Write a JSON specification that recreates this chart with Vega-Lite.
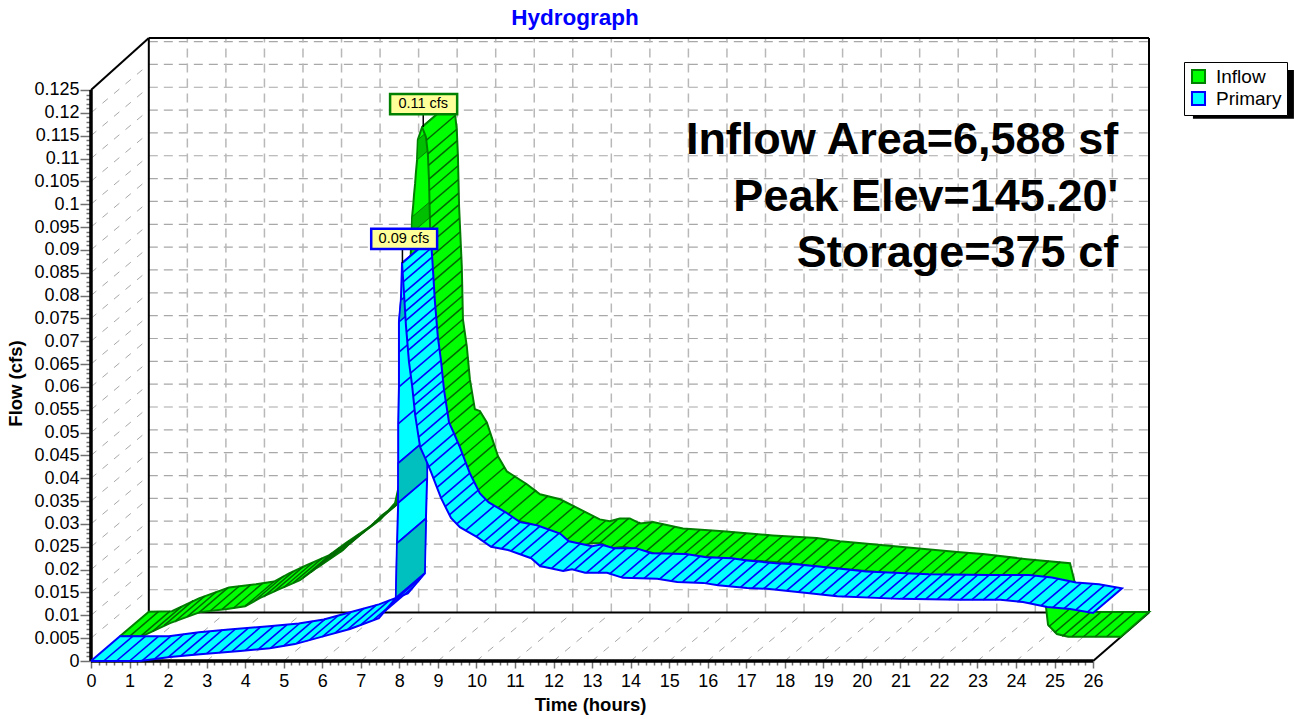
{"$schema":"https://vega.github.io/schema/vega-lite/v6.json","width":1058,"height":623,"autosize":{"type":"none"},"padding":{"left":91,"top":38,"right":145,"bottom":58},"background":"#ffffff",
"title":{"text":"Hydrograph","color":"#0000ff","font":"Liberation Sans","fontSize":22.5,"fontWeight":"bold","anchor":"middle","frame":"group","dx":-45,"offset":7},
"config":{"view":{"stroke":null},"font":"Liberation Sans"},
"datasets":{
"wallDiag":[{"t":0,"f":0.005,"t2":1.5,"f2":0.0156},{"t":0,"f":0.01,"t2":1.5,"f2":0.0206},{"t":0,"f":0.015,"t2":1.5,"f2":0.0256},{"t":0,"f":0.02,"t2":1.5,"f2":0.0306},{"t":0,"f":0.025,"t2":1.5,"f2":0.0356},{"t":0,"f":0.03,"t2":1.5,"f2":0.0406},{"t":0,"f":0.035,"t2":1.5,"f2":0.0456},{"t":0,"f":0.04,"t2":1.5,"f2":0.0506},{"t":0,"f":0.045,"t2":1.5,"f2":0.0556},{"t":0,"f":0.05,"t2":1.5,"f2":0.0606},{"t":0,"f":0.055,"t2":1.5,"f2":0.0656},{"t":0,"f":0.06,"t2":1.5,"f2":0.0706},{"t":0,"f":0.065,"t2":1.5,"f2":0.0756},{"t":0,"f":0.07,"t2":1.5,"f2":0.0806},{"t":0,"f":0.075,"t2":1.5,"f2":0.0856},{"t":0,"f":0.08,"t2":1.5,"f2":0.0906},{"t":0,"f":0.085,"t2":1.5,"f2":0.0956},{"t":0,"f":0.09,"t2":1.5,"f2":0.1006},{"t":0,"f":0.095,"t2":1.5,"f2":0.1056},{"t":0,"f":0.1,"t2":1.5,"f2":0.1106},{"t":0,"f":0.105,"t2":1.5,"f2":0.1156},{"t":0,"f":0.11,"t2":1.5,"f2":0.1206},{"t":0,"f":0.115,"t2":1.5,"f2":0.1256},{"t":0,"f":0.12,"t2":1.5,"f2":0.1306}],
"floorDiag":[{"t":1,"f":0,"t2":2.5,"f2":0.0106},{"t":2,"f":0,"t2":3.5,"f2":0.0106},{"t":3,"f":0,"t2":4.5,"f2":0.0106},{"t":4,"f":0,"t2":5.5,"f2":0.0106},{"t":5,"f":0,"t2":6.5,"f2":0.0106},{"t":6,"f":0,"t2":7.5,"f2":0.0106},{"t":7,"f":0,"t2":8.5,"f2":0.0106},{"t":8,"f":0,"t2":9.5,"f2":0.0106},{"t":9,"f":0,"t2":10.5,"f2":0.0106},{"t":10,"f":0,"t2":11.5,"f2":0.0106},{"t":11,"f":0,"t2":12.5,"f2":0.0106},{"t":12,"f":0,"t2":13.5,"f2":0.0106},{"t":13,"f":0,"t2":14.5,"f2":0.0106},{"t":14,"f":0,"t2":15.5,"f2":0.0106},{"t":15,"f":0,"t2":16.5,"f2":0.0106},{"t":16,"f":0,"t2":17.5,"f2":0.0106},{"t":17,"f":0,"t2":18.5,"f2":0.0106},{"t":18,"f":0,"t2":19.5,"f2":0.0106},{"t":19,"f":0,"t2":20.5,"f2":0.0106},{"t":20,"f":0,"t2":21.5,"f2":0.0106},{"t":21,"f":0,"t2":22.5,"f2":0.0106},{"t":22,"f":0,"t2":23.5,"f2":0.0106},{"t":23,"f":0,"t2":24.5,"f2":0.0106},{"t":24,"f":0,"t2":25.5,"f2":0.0106},{"t":25,"f":0,"t2":26.5,"f2":0.0106}],
"backH":[{"t":1.5,"f":0.0156,"t2":27.45,"f2":0.0156},{"t":1.5,"f":0.0206,"t2":27.45,"f2":0.0206},{"t":1.5,"f":0.0256,"t2":27.45,"f2":0.0256},{"t":1.5,"f":0.0306,"t2":27.45,"f2":0.0306},{"t":1.5,"f":0.0356,"t2":27.45,"f2":0.0356},{"t":1.5,"f":0.0406,"t2":27.45,"f2":0.0406},{"t":1.5,"f":0.0456,"t2":27.45,"f2":0.0456},{"t":1.5,"f":0.0506,"t2":27.45,"f2":0.0506},{"t":1.5,"f":0.0556,"t2":27.45,"f2":0.0556},{"t":1.5,"f":0.0606,"t2":27.45,"f2":0.0606},{"t":1.5,"f":0.0656,"t2":27.45,"f2":0.0656},{"t":1.5,"f":0.0706,"t2":27.45,"f2":0.0706},{"t":1.5,"f":0.0756,"t2":27.45,"f2":0.0756},{"t":1.5,"f":0.0806,"t2":27.45,"f2":0.0806},{"t":1.5,"f":0.0856,"t2":27.45,"f2":0.0856},{"t":1.5,"f":0.0906,"t2":27.45,"f2":0.0906},{"t":1.5,"f":0.0956,"t2":27.45,"f2":0.0956},{"t":1.5,"f":0.1006,"t2":27.45,"f2":0.1006},{"t":1.5,"f":0.1056,"t2":27.45,"f2":0.1056},{"t":1.5,"f":0.1106,"t2":27.45,"f2":0.1106},{"t":1.5,"f":0.1156,"t2":27.45,"f2":0.1156},{"t":1.5,"f":0.1206,"t2":27.45,"f2":0.1206},{"t":1.5,"f":0.1256,"t2":27.45,"f2":0.1256},{"t":1.5,"f":0.1306,"t2":27.45,"f2":0.1306},{"t":1.5,"f":0.1356,"t2":27.45,"f2":0.1356}],
"backV":[{"t":2.5,"f":0.0106,"t2":2.5,"f2":0.1364},{"t":3.5,"f":0.0106,"t2":3.5,"f2":0.1364},{"t":4.5,"f":0.0106,"t2":4.5,"f2":0.1364},{"t":5.5,"f":0.0106,"t2":5.5,"f2":0.1364},{"t":6.5,"f":0.0106,"t2":6.5,"f2":0.1364},{"t":7.5,"f":0.0106,"t2":7.5,"f2":0.1364},{"t":8.5,"f":0.0106,"t2":8.5,"f2":0.1364},{"t":9.5,"f":0.0106,"t2":9.5,"f2":0.1364},{"t":10.5,"f":0.0106,"t2":10.5,"f2":0.1364},{"t":11.5,"f":0.0106,"t2":11.5,"f2":0.1364},{"t":12.5,"f":0.0106,"t2":12.5,"f2":0.1364},{"t":13.5,"f":0.0106,"t2":13.5,"f2":0.1364},{"t":14.5,"f":0.0106,"t2":14.5,"f2":0.1364},{"t":15.5,"f":0.0106,"t2":15.5,"f2":0.1364},{"t":16.5,"f":0.0106,"t2":16.5,"f2":0.1364},{"t":17.5,"f":0.0106,"t2":17.5,"f2":0.1364},{"t":18.5,"f":0.0106,"t2":18.5,"f2":0.1364},{"t":19.5,"f":0.0106,"t2":19.5,"f2":0.1364},{"t":20.5,"f":0.0106,"t2":20.5,"f2":0.1364},{"t":21.5,"f":0.0106,"t2":21.5,"f2":0.1364},{"t":22.5,"f":0.0106,"t2":22.5,"f2":0.1364},{"t":23.5,"f":0.0106,"t2":23.5,"f2":0.1364},{"t":24.5,"f":0.0106,"t2":24.5,"f2":0.1364},{"t":25.5,"f":0.0106,"t2":25.5,"f2":0.1364},{"t":26.5,"f":0.0106,"t2":26.5,"f2":0.1364}],
"frameThick":[{"t":0,"f":0,"t2":26,"f2":0},{"t":0,"f":0,"t2":0,"f2":0.125}],
"frameThin":[{"t":1.5,"f":0.0106,"t2":1.5,"f2":0.1364},{"t":1.5,"f":0.1364,"t2":27.45,"f2":0.1364},{"t":27.45,"f":0.0106,"t2":27.45,"f2":0.1364},{"t":1.5,"f":0.0106,"t2":27.45,"f2":0.0106},{"t":0,"f":0.125,"t2":1.5,"f2":0.1364},{"t":26,"f":0,"t2":27.45,"f2":0.0106}],
"iLeft":[{"t":0.75,"f":0.0054},{"t":1.35,"f":0.0055},{"t":2.05,"f":0.0083},{"t":2.83,"f":0.0107},{"t":3.53,"f":0.0114},{"t":4.0,"f":0.012},{"t":4.39,"f":0.0138},{"t":4.83,"f":0.0155},{"t":5.42,"f":0.0177},{"t":5.86,"f":0.0204},{"t":6.54,"f":0.0243},{"t":6.8,"f":0.0265},{"t":7.5,"f":0.0309},{"t":7.89,"f":0.0346},{"t":8.64,"f":0.04},{"t":8.25,"f":0.0363},{"t":7.55,"f":0.0319},{"t":7.29,"f":0.0297},{"t":6.61,"f":0.0258},{"t":6.17,"f":0.0231},{"t":5.58,"f":0.0209},{"t":5.14,"f":0.0192},{"t":4.75,"f":0.0174},{"t":4.28,"f":0.0168},{"t":3.58,"f":0.0161},{"t":2.8,"f":0.0137},{"t":2.1,"f":0.0109},{"t":1.5,"f":0.0108},{"t":0.75,"f":0.0054}],
"iWall":[{"t":7.89,"f":0.0346},{"t":8.02,"f":0.0396},{"t":8.15,"f":0.0571},{"t":8.23,"f":0.079},{"t":8.28,"f":0.0856},{"t":8.3,"f":0.09},{"t":8.32,"f":0.0937},{"t":8.33,"f":0.0972},{"t":8.36,"f":0.0998},{"t":8.38,"f":0.102},{"t":8.41,"f":0.1046},{"t":8.43,"f":0.107},{"t":8.46,"f":0.1097},{"t":8.48,"f":0.1141},{"t":8.59,"f":0.1169},{"t":9.34,"f":0.1223},{"t":9.23,"f":0.1195},{"t":9.21,"f":0.1151},{"t":9.18,"f":0.1124},{"t":9.16,"f":0.11},{"t":9.13,"f":0.1074},{"t":9.11,"f":0.1052},{"t":9.08,"f":0.1026},{"t":9.07,"f":0.0991},{"t":9.05,"f":0.0954},{"t":9.03,"f":0.091},{"t":8.98,"f":0.0844},{"t":8.9,"f":0.0625},{"t":8.77,"f":0.045},{"t":8.64,"f":0.04},{"t":7.89,"f":0.0346}],
"iWallDark":[{"q":1,"t":8.32,"f":0.0937},{"q":1,"t":8.33,"f":0.0972},{"q":1,"t":9.08,"f":0.1026},{"q":1,"t":9.07,"f":0.0991},{"q":1,"t":8.32,"f":0.0937},{"q":2,"t":8.46,"f":0.1097},{"q":2,"t":8.48,"f":0.1141},{"q":2,"t":9.23,"f":0.1195},{"q":2,"t":9.21,"f":0.1151},{"q":2,"t":8.46,"f":0.1097}],
"iHatch1":[{"t":1.0,"f":0.0054},{"t":1.3,"f":0.0055},{"t":1.6,"f":0.0065},{"t":1.9,"f":0.0078},{"t":2.2,"f":0.0088},{"t":2.5,"f":0.0097},{"t":2.8,"f":0.0106},{"t":3.1,"f":0.011},{"t":3.4,"f":0.0113},{"t":3.7,"f":0.0116},{"t":4.0,"f":0.012},{"t":4.25,"f":0.0132},{"t":4.5,"f":0.0142},{"t":4.75,"f":0.0152},{"t":5.0,"f":0.0161},{"t":5.25,"f":0.0171},{"t":5.5,"f":0.0182},{"t":5.7,"f":0.0194},{"t":5.95,"f":0.0209},{"t":6.2,"f":0.0224},{"t":6.45,"f":0.0238},{"t":6.7,"f":0.0255},{"t":6.95,"f":0.0274},{"t":7.2,"f":0.029},{"t":7.45,"f":0.0307},{"t":7.7,"f":0.0328},{"t":8.36,"f":0.0998},{"t":8.38,"f":0.102},{"t":8.41,"f":0.1046},{"t":8.43,"f":0.107},{"t":8.28,"f":0.0856},{"t":8.3,"f":0.09}],
"iFall":[{"t":8.59,"f":0.1169},{"t":8.69,"f":0.1147},{"t":8.74,"f":0.111},{"t":8.77,"f":0.1051},{"t":8.8,"f":0.0941},{"t":8.87,"f":0.081},{"t":8.9,"f":0.0694},{"t":9.0,"f":0.0635},{"t":9.08,"f":0.0563},{"t":9.21,"f":0.0497},{"t":9.34,"f":0.0493},{"t":9.52,"f":0.0468},{"t":9.81,"f":0.0394},{"t":10.04,"f":0.0361},{"t":10.56,"f":0.0333},{"t":10.9,"f":0.0311},{"t":11.42,"f":0.03},{"t":11.94,"f":0.0278},{"t":12.45,"f":0.0256},{"t":12.71,"f":0.0252},{"t":12.97,"f":0.0258},{"t":13.23,"f":0.0258},{"t":13.49,"f":0.0247},{"t":13.83,"f":0.025},{"t":14.61,"f":0.0236},{"t":15.65,"f":0.023},{"t":16.94,"f":0.0221},{"t":18.08,"f":0.0215},{"t":18.68,"f":0.0208},{"t":21.8,"f":0.0184},{"t":22.39,"f":0.018},{"t":23.53,"f":0.0169},{"t":24.65,"f":0.016},{"t":24.78,"f":0.0116},{"t":24.83,"f":0.0079},{"t":25.06,"f":0.0059},{"t":25.35,"f":0.0053},{"t":26.72,"f":0.0053},{"t":27.45,"f":0.0107},{"t":26.1,"f":0.0107},{"t":25.81,"f":0.0113},{"t":25.58,"f":0.0133},{"t":25.53,"f":0.017},{"t":25.4,"f":0.0214},{"t":24.28,"f":0.0223},{"t":23.14,"f":0.0234},{"t":22.55,"f":0.0238},{"t":19.43,"f":0.0262},{"t":18.83,"f":0.0269},{"t":17.69,"f":0.0275},{"t":16.4,"f":0.0284},{"t":15.36,"f":0.029},{"t":14.58,"f":0.0304},{"t":14.24,"f":0.0301},{"t":13.98,"f":0.0312},{"t":13.72,"f":0.0312},{"t":13.46,"f":0.0306},{"t":13.2,"f":0.031},{"t":12.69,"f":0.0332},{"t":12.17,"f":0.0354},{"t":11.65,"f":0.0365},{"t":11.31,"f":0.0387},{"t":10.79,"f":0.0415},{"t":10.56,"f":0.0448},{"t":10.27,"f":0.0522},{"t":10.09,"f":0.0547},{"t":9.96,"f":0.0551},{"t":9.83,"f":0.0617},{"t":9.75,"f":0.0689},{"t":9.65,"f":0.0748},{"t":9.62,"f":0.0864},{"t":9.55,"f":0.0995},{"t":9.52,"f":0.1105},{"t":9.49,"f":0.1164},{"t":9.44,"f":0.1201},{"t":9.34,"f":0.1223},{"t":8.59,"f":0.1169}],
"iHatch2":[{"t":8.7,"f":0.114},{"t":8.74,"f":0.111},{"t":8.755,"f":0.1085},{"t":8.77,"f":0.1055},{"t":8.775,"f":0.103},{"t":8.785,"f":0.1},{"t":8.79,"f":0.097},{"t":8.8,"f":0.0945},{"t":8.81,"f":0.0915},{"t":8.825,"f":0.0885},{"t":8.84,"f":0.0855},{"t":8.86,"f":0.083},{"t":8.87,"f":0.08},{"t":8.88,"f":0.077},{"t":8.885,"f":0.0745},{"t":8.89,"f":0.072},{"t":8.9,"f":0.0694},{"t":8.94,"f":0.067},{"t":8.99,"f":0.064},{"t":9.03,"f":0.0612},{"t":9.06,"f":0.0585},{"t":9.09,"f":0.056},{"t":9.14,"f":0.0535},{"t":9.19,"f":0.051},{"t":9.36,"f":0.049},{"t":9.52,"f":0.0468},{"t":9.61,"f":0.0445},{"t":9.71,"f":0.042},{"t":9.81,"f":0.0394},{"t":9.98,"f":0.037},{"t":10.25,"f":0.035},{"t":10.55,"f":0.0335},{"t":10.8,"f":0.032},{"t":11.1,"f":0.0307},{"t":11.5,"f":0.0295},{"t":11.8,"f":0.0285},{"t":12.05,"f":0.0272},{"t":12.3,"f":0.0262},{"t":12.6,"f":0.0253},{"t":12.9,"f":0.0255},{"t":13.2,"f":0.0258},{"t":13.5,"f":0.025},{"t":13.8,"f":0.025},{"t":14.1,"f":0.0246},{"t":14.4,"f":0.024},{"t":14.75,"f":0.0235},{"t":15.05,"f":0.0233},{"t":15.35,"f":0.0232},{"t":15.65,"f":0.023},{"t":15.95,"f":0.0228},{"t":16.25,"f":0.0226},{"t":16.55,"f":0.0224},{"t":16.85,"f":0.0222},{"t":17.2,"f":0.022},{"t":17.5,"f":0.0218},{"t":17.8,"f":0.0216},{"t":18.1,"f":0.0215},{"t":18.4,"f":0.0211},{"t":18.7,"f":0.0207},{"t":19.05,"f":0.0204},{"t":19.4,"f":0.0201},{"t":19.7,"f":0.0198},{"t":20.05,"f":0.0196},{"t":20.4,"f":0.0193},{"t":20.75,"f":0.019},{"t":21.05,"f":0.0188},{"t":21.4,"f":0.0185},{"t":21.7,"f":0.0184},{"t":22.0,"f":0.0182},{"t":22.4,"f":0.018},{"t":22.75,"f":0.0177},{"t":23.1,"f":0.0174},{"t":23.4,"f":0.0171},{"t":23.75,"f":0.0168},{"t":24.1,"f":0.0165},{"t":24.4,"f":0.0163},{"t":24.85,"f":0.0075},{"t":25.0,"f":0.0062},{"t":25.2,"f":0.0054},{"t":25.45,"f":0.0053},{"t":25.75,"f":0.0053},{"t":26.05,"f":0.0053},{"t":26.35,"f":0.0053}],
"pWall":[{"t":7.91,"f":0.0138},{"t":7.94,"f":0.0258},{"t":7.97,"f":0.0346},{"t":7.97,"f":0.0433},{"t":7.97,"f":0.0519},{"t":7.99,"f":0.06},{"t":7.99,"f":0.0676},{"t":7.99,"f":0.0742},{"t":8.04,"f":0.079},{"t":8.07,"f":0.0871},{"t":8.82,"f":0.0925},{"t":8.79,"f":0.0844},{"t":8.74,"f":0.0796},{"t":8.74,"f":0.073},{"t":8.74,"f":0.0654},{"t":8.72,"f":0.0573},{"t":8.72,"f":0.0487},{"t":8.72,"f":0.04},{"t":8.69,"f":0.0312},{"t":8.66,"f":0.0192},{"t":7.91,"f":0.0138}],
"pWallDark":[{"q":1,"t":7.91,"f":0.0138},{"q":1,"t":7.94,"f":0.0258},{"q":1,"t":8.69,"f":0.0312},{"q":1,"t":8.66,"f":0.0192},{"q":1,"t":7.91,"f":0.0138},{"q":2,"t":7.97,"f":0.0346},{"q":2,"t":7.97,"f":0.0433},{"q":2,"t":8.72,"f":0.0487},{"q":2,"t":8.72,"f":0.04},{"q":2,"t":7.97,"f":0.0346},{"q":3,"t":7.99,"f":0.0742},{"q":3,"t":8.04,"f":0.079},{"q":3,"t":8.79,"f":0.0844},{"q":3,"t":8.74,"f":0.0796},{"q":3,"t":7.99,"f":0.0742}],
"pLeft":[{"t":0,"f":0},{"t":1.27,"f":0},{"t":2.05,"f":0.0009},{"t":2.83,"f":0.0015},{"t":3.87,"f":0.0022},{"t":4.64,"f":0.0028},{"t":5.29,"f":0.0037},{"t":6.07,"f":0.0055},{"t":6.72,"f":0.007},{"t":7.47,"f":0.0094},{"t":7.91,"f":0.0138},{"t":8.66,"f":0.0192},{"t":8.22,"f":0.0148},{"t":7.47,"f":0.0124},{"t":6.82,"f":0.0109},{"t":6.04,"f":0.0091},{"t":5.39,"f":0.0082},{"t":4.62,"f":0.0076},{"t":3.58,"f":0.0069},{"t":2.8,"f":0.0063},{"t":2.02,"f":0.0054},{"t":0.75,"f":0.0054},{"t":0,"f":0}],
"pHatch1":[{"t":0.33,"f":0},{"t":0.66,"f":0},{"t":1.0,"f":0},{"t":1.33,"f":0.0001},{"t":1.66,"f":0.0005},{"t":2.0,"f":0.0008},{"t":2.33,"f":0.0011},{"t":2.66,"f":0.0014},{"t":3.0,"f":0.0016},{"t":3.33,"f":0.0018},{"t":3.66,"f":0.0021},{"t":4.0,"f":0.0023},{"t":4.33,"f":0.0025},{"t":4.66,"f":0.0028},{"t":5.0,"f":0.0033},{"t":5.33,"f":0.0038},{"t":5.66,"f":0.0045},{"t":6.0,"f":0.0053},{"t":6.33,"f":0.0061},{"t":6.66,"f":0.0069},{"t":7.0,"f":0.0079},{"t":7.33,"f":0.009},{"t":7.6,"f":0.0107},{"t":7.8,"f":0.0127},{"t":7.94,"f":0.0258},{"t":7.97,"f":0.0346},{"t":7.97,"f":0.0433},{"t":7.97,"f":0.0519},{"t":7.99,"f":0.06},{"t":7.99,"f":0.0676}],
"pFall":[{"t":8.07,"f":0.0871},{"t":8.12,"f":0.0806},{"t":8.17,"f":0.0736},{"t":8.25,"f":0.0655},{"t":8.33,"f":0.0604},{"t":8.41,"f":0.0539},{"t":8.54,"f":0.0468},{"t":8.67,"f":0.0444},{"t":8.82,"f":0.0414},{"t":9.08,"f":0.0357},{"t":9.34,"f":0.0313},{"t":9.57,"f":0.0293},{"t":10.02,"f":0.0271},{"t":10.38,"f":0.025},{"t":10.82,"f":0.0243},{"t":11.42,"f":0.0225},{"t":11.65,"f":0.0208},{"t":12.25,"f":0.0197},{"t":12.48,"f":0.0201},{"t":12.82,"f":0.0193},{"t":13.39,"f":0.0193},{"t":13.8,"f":0.0182},{"t":14.69,"f":0.018},{"t":15.21,"f":0.0173},{"t":15.88,"f":0.0171},{"t":16.27,"f":0.0166},{"t":17.02,"f":0.016},{"t":17.54,"f":0.0158},{"t":18.58,"f":0.0149},{"t":19.36,"f":0.0142},{"t":20.99,"f":0.0136},{"t":22.55,"f":0.0134},{"t":23.59,"f":0.0134},{"t":24.18,"f":0.0129},{"t":24.81,"f":0.0118},{"t":25.4,"f":0.0114},{"t":26.0,"f":0.0105},{"t":26.75,"f":0.0159},{"t":26.15,"f":0.0168},{"t":25.56,"f":0.0172},{"t":24.93,"f":0.0183},{"t":24.34,"f":0.0188},{"t":23.3,"f":0.0188},{"t":21.74,"f":0.019},{"t":20.11,"f":0.0196},{"t":19.33,"f":0.0203},{"t":18.29,"f":0.0212},{"t":17.77,"f":0.0214},{"t":17.02,"f":0.022},{"t":16.63,"f":0.0225},{"t":15.96,"f":0.0227},{"t":15.44,"f":0.0234},{"t":14.55,"f":0.0236},{"t":14.14,"f":0.0247},{"t":13.57,"f":0.0247},{"t":13.23,"f":0.0255},{"t":13.0,"f":0.0251},{"t":12.4,"f":0.0262},{"t":12.17,"f":0.0279},{"t":11.57,"f":0.0297},{"t":11.13,"f":0.0304},{"t":10.77,"f":0.0325},{"t":10.32,"f":0.0347},{"t":10.09,"f":0.0367},{"t":9.83,"f":0.0411},{"t":9.57,"f":0.0468},{"t":9.42,"f":0.0498},{"t":9.29,"f":0.0522},{"t":9.16,"f":0.0593},{"t":9.08,"f":0.0658},{"t":9.0,"f":0.0709},{"t":8.92,"f":0.079},{"t":8.87,"f":0.086},{"t":8.82,"f":0.0925},{"t":8.07,"f":0.0871}],
"pHatch2":[{"t":8.08,"f":0.085},{"t":8.1,"f":0.083},{"t":8.12,"f":0.0806},{"t":8.13,"f":0.0785},{"t":8.15,"f":0.0765},{"t":8.165,"f":0.0745},{"t":8.18,"f":0.072},{"t":8.21,"f":0.07},{"t":8.225,"f":0.068},{"t":8.25,"f":0.0655},{"t":8.29,"f":0.063},{"t":8.33,"f":0.0604},{"t":8.37,"f":0.058},{"t":8.385,"f":0.056},{"t":8.41,"f":0.0539},{"t":8.45,"f":0.0515},{"t":8.5,"f":0.049},{"t":8.54,"f":0.0468},{"t":8.67,"f":0.0444},{"t":8.76,"f":0.0425},{"t":8.88,"f":0.04},{"t":8.98,"f":0.038},{"t":9.08,"f":0.0357},{"t":9.19,"f":0.0338},{"t":9.3,"f":0.032},{"t":9.49,"f":0.03},{"t":9.72,"f":0.0286},{"t":10.0,"f":0.0273},{"t":10.2,"f":0.0262},{"t":10.38,"f":0.025},{"t":10.65,"f":0.0246},{"t":10.9,"f":0.0241},{"t":11.15,"f":0.0234},{"t":11.4,"f":0.0226},{"t":11.65,"f":0.0209},{"t":11.95,"f":0.0203},{"t":12.25,"f":0.0197},{"t":12.55,"f":0.02},{"t":12.85,"f":0.0193},{"t":13.15,"f":0.0193},{"t":13.45,"f":0.019},{"t":13.75,"f":0.0183},{"t":14.05,"f":0.0182},{"t":14.35,"f":0.0181},{"t":14.75,"f":0.0179},{"t":15.05,"f":0.0175},{"t":15.35,"f":0.0173},{"t":15.65,"f":0.0172},{"t":15.95,"f":0.017},{"t":16.25,"f":0.0166},{"t":16.55,"f":0.0164},{"t":16.85,"f":0.0161},{"t":17.15,"f":0.0159},{"t":17.45,"f":0.0158},{"t":17.75,"f":0.0156},{"t":18.05,"f":0.0154},{"t":18.35,"f":0.0151},{"t":18.65,"f":0.0149},{"t":18.95,"f":0.0146},{"t":19.25,"f":0.0143},{"t":19.55,"f":0.0141},{"t":19.85,"f":0.014},{"t":20.15,"f":0.0139},{"t":20.45,"f":0.0137},{"t":20.75,"f":0.0136},{"t":21.05,"f":0.0136},{"t":21.35,"f":0.0135},{"t":21.65,"f":0.0135},{"t":21.95,"f":0.0135},{"t":22.25,"f":0.0134},{"t":22.55,"f":0.0134},{"t":22.85,"f":0.0134},{"t":23.15,"f":0.0134},{"t":23.45,"f":0.0134},{"t":23.75,"f":0.0133},{"t":24.05,"f":0.013},{"t":24.35,"f":0.0126},{"t":24.65,"f":0.0121},{"t":24.95,"f":0.0117},{"t":25.25,"f":0.0115},{"t":25.55,"f":0.0112},{"t":25.85,"f":0.0107}],
"leaders":[{"t":8.62,"f":0.1197,"t2":8.62,"f2":0.1169},{"t":8.08,"f":0.0902,"t2":8.08,"f2":0.0871}],
"callouts":[{"t":7.76,"t2":9.5,"f":0.1241,"f2":0.1197,"series":"Inflow"},{"t":7.27,"t2":8.98,"f":0.0946,"f2":0.0902,"series":"Primary"}],
"calloutText":[{"t":8.62,"f":0.1219,"label":"0.11 cfs"},{"t":8.12,"f":0.0924,"label":"0.09 cfs"}],
"notes":[{"t":26.65,"f":0.114,"label":"Inflow Area=6,588 sf"},{"t":26.65,"f":0.1015,"label":"Peak Elev=145.20'"},{"t":26.65,"f":0.0893,"label":"Storage=375 cf"}],
"keyShadow":[{"t":28.59,"t2":31.21,"f":0.1294,"f2":0.1187}],
"key":[{"t":1.0,"f":0.005,"series":"Inflow"},{"t":1.0,"f":0.002,"series":"Primary"}]
},
"encoding":{
"x":{"field":"t","type":"quantitative","scale":{"domain":[0,27.45],"nice":false,"zero":false},"title":"Time  (hours)","axis":{"values":[0,0.2,0.4,0.6,0.8,1,1.2,1.4,1.6,1.8,2,2.2,2.4,2.6,2.8,3,3.2,3.4,3.6,3.8,4,4.2,4.4,4.6,4.8,5,5.2,5.4,5.6,5.8,6,6.2,6.4,6.6,6.8,7,7.2,7.4,7.6,7.8,8,8.2,8.4,8.6,8.8,9,9.2,9.4,9.6,9.8,10,10.2,10.4,10.6,10.8,11,11.2,11.4,11.6,11.8,12,12.2,12.4,12.6,12.8,13,13.2,13.4,13.6,13.8,14,14.2,14.4,14.6,14.8,15,15.2,15.4,15.6,15.8,16,16.2,16.4,16.6,16.8,17,17.2,17.4,17.6,17.8,18,18.2,18.4,18.6,18.8,19,19.2,19.4,19.6,19.8,20,20.2,20.4,20.6,20.8,21,21.2,21.4,21.6,21.8,22,22.2,22.4,22.6,22.8,23,23.2,23.4,23.6,23.8,24,24.2,24.4,24.6,24.8,25,25.2,25.4,25.6,25.8,26],"grid":false,"domain":false,"labelOverlap":false,"labelBound":false,"labelFlush":false,"labelFont":"Liberation Sans","labelFontSize":18,"labelColor":"#000000","labelPadding":4,"labelExpr":"(datum.value%1==0)?format(datum.value,'d'):''","tickColor":"#707070","tickWidth":1.5,"tickSize":{"condition":{"test":"datum.value%1==0","value":7},"value":4},"titleFont":"Liberation Sans","titleFontSize":18.5,"titleFontWeight":"bold","titleColor":"#000000","titleX":499,"titleY":53,"titleBaseline":"bottom"}},
"y":{"field":"f","type":"quantitative","scale":{"domain":[0,0.13638],"nice":false,"zero":false},"title":"Flow  (cfs)","axis":{"values":[0,0.001,0.002,0.003,0.004,0.005,0.006,0.007,0.008,0.009,0.01,0.011,0.012,0.013,0.014,0.015,0.016,0.017,0.018,0.019,0.02,0.021,0.022,0.023,0.024,0.025,0.026,0.027,0.028,0.029,0.03,0.031,0.032,0.033,0.034,0.035,0.036,0.037,0.038,0.039,0.04,0.041,0.042,0.043,0.044,0.045,0.046,0.047,0.048,0.049,0.05,0.051,0.052,0.053,0.054,0.055,0.056,0.057,0.058,0.059,0.06,0.061,0.062,0.063,0.064,0.065,0.066,0.067,0.068,0.069,0.07,0.071,0.072,0.073,0.074,0.075,0.076,0.077,0.078,0.079,0.08,0.081,0.082,0.083,0.084,0.085,0.086,0.087,0.088,0.089,0.09,0.091,0.092,0.093,0.094,0.095,0.096,0.097,0.098,0.099,0.1,0.101,0.102,0.103,0.104,0.105,0.106,0.107,0.108,0.109,0.11,0.111,0.112,0.113,0.114,0.115,0.116,0.117,0.118,0.119,0.12,0.121,0.122,0.123,0.124,0.125],"grid":false,"domain":false,"labelOverlap":false,"labelBound":false,"labelFlush":false,"labelFont":"Liberation Sans","labelFontSize":18,"labelColor":"#000000","labelPadding":1,"labelExpr":"(round(datum.value*1000)%5==0)?format(datum.value,'.3~f'):''","tickColor":"#707070","tickWidth":1.5,"tickSize":{"condition":{"test":"round(datum.value*1000)%5==0","value":11},"value":5},"titleFont":"Liberation Sans","titleFontSize":18.5,"titleFontWeight":"bold","titleColor":"#000000","titleX":-66,"titleY":345}}
},
"layer":[
{"data":{"name":"keyShadow"},"mark":{"type":"rect","fill":"#000000"},"encoding":{"x2":{"field":"t2"},"y2":{"field":"f2"}}},
{"data":{"name":"wallDiag"},"mark":{"type":"rule","color":"#a8a8a8","strokeWidth":1,"strokeDash":[7,8]},"encoding":{"x2":{"field":"t2"},"y2":{"field":"f2"}}},
{"data":{"name":"floorDiag"},"mark":{"type":"rule","color":"#a8a8a8","strokeWidth":1,"strokeDash":[7,8]},"encoding":{"x2":{"field":"t2"},"y2":{"field":"f2"}}},
{"data":{"name":"backH"},"mark":{"type":"rule","color":"#a8a8a8","strokeWidth":1.2,"strokeDash":[9,6]},"encoding":{"x2":{"field":"t2"},"y2":{"field":"f2"}}},
{"data":{"name":"backV"},"mark":{"type":"rule","color":"#b8b8b8","strokeWidth":1.5,"strokeDash":[9,6]},"encoding":{"x2":{"field":"t2"},"y2":{"field":"f2"}}},
{"data":{"name":"frameThin"},"mark":{"type":"rule","color":"#000000","strokeWidth":2},"encoding":{"x2":{"field":"t2"},"y2":{"field":"f2"}}},
{"data":{"name":"frameThick"},"mark":{"type":"rule","color":"#000000","strokeWidth":3.5},"encoding":{"x2":{"field":"t2"},"y2":{"field":"f2"}}},
{"data":{"name":"key"},"mark":{"type":"square","size":1,"opacity":1},"encoding":{"fill":{"field":"series","type":"nominal","scale":{"domain":["Inflow","Primary"],"range":["#00ff00","#00ffff"]},"legend":{"title":null,"orient":"none","legendX":1093,"legendY":24,"symbolType":"square","symbolSize":170,"symbolStrokeWidth":2,"symbolOpacity":1,"labelFont":"Liberation Sans","labelFontSize":19,"labelColor":"#000000","labelOffset":8,"fillColor":"#ffffff","strokeColor":"#000000","padding":5,"rowPadding":-1,"labelLimit":200}},"stroke":{"field":"series","type":"nominal","scale":{"domain":["Inflow","Primary"],"range":["#008000","#0000ff"]}}}},
{"data":{"name":"iLeft"},"mark":{"type":"line","fill":"#00ff00","stroke":"#008000","strokeWidth":2},"encoding":{"order":{"value":null}}},
{"data":{"name":"iHatch1"},"mark":{"type":"rule","color":"#006800","strokeWidth":1.5,"x2Offset":28.9,"y2Offset":-24.7},"encoding":{"x2":{"field":"t"},"y2":{"field":"f"}}},
{"data":{"name":"iWall"},"mark":{"type":"line","fill":"#00ff00","stroke":"#008000","strokeWidth":2},"encoding":{"order":{"value":null}}},
{"data":{"name":"iWallDark"},"mark":{"type":"line","fill":"#00bf00","stroke":"#008000","strokeWidth":1},"encoding":{"order":{"value":null},"detail":{"field":"q"}}},
{"data":{"name":"iFall"},"mark":{"type":"line","fill":"#00ff00","stroke":"#008000","strokeWidth":2},"encoding":{"order":{"value":null}}},
{"data":{"name":"iHatch2"},"mark":{"type":"rule","color":"#006800","strokeWidth":1.5,"x2Offset":28.9,"y2Offset":-24.7},"encoding":{"x2":{"field":"t"},"y2":{"field":"f"}}},
{"data":{"name":"pWall"},"mark":{"type":"line","fill":"#00ffff","stroke":"#0000ff","strokeWidth":2},"encoding":{"order":{"value":null}}},
{"data":{"name":"pWallDark"},"mark":{"type":"line","fill":"#00bfbf","stroke":"#0000ff","strokeWidth":1.5},"encoding":{"order":{"value":null},"detail":{"field":"q"}}},
{"data":{"name":"pLeft"},"mark":{"type":"line","fill":"#00ffff","stroke":"#0000ff","strokeWidth":2},"encoding":{"order":{"value":null}}},
{"data":{"name":"pHatch1"},"mark":{"type":"rule","color":"#0000ff","strokeWidth":1.6,"x2Offset":28.9,"y2Offset":-24.7},"encoding":{"x2":{"field":"t"},"y2":{"field":"f"}}},
{"data":{"name":"pFall"},"mark":{"type":"line","fill":"#00ffff","stroke":"#0000ff","strokeWidth":2},"encoding":{"order":{"value":null}}},
{"data":{"name":"pHatch2"},"mark":{"type":"rule","color":"#0000ff","strokeWidth":1.6,"x2Offset":28.9,"y2Offset":-24.7},"encoding":{"x2":{"field":"t"},"y2":{"field":"f"}}},
{"data":{"name":"leaders"},"mark":{"type":"rule","color":"#000000","strokeWidth":1.5},"encoding":{"x2":{"field":"t2"},"y2":{"field":"f2"}}},
{"data":{"name":"callouts"},"mark":{"type":"rect","fill":"#ffff99","strokeWidth":2.5},"encoding":{"x2":{"field":"t2"},"y2":{"field":"f2"},"stroke":{"field":"series","type":"nominal","legend":null,"scale":{"domain":["Inflow","Primary"],"range":["#008000","#0000ff"]}}}},
{"data":{"name":"calloutText"},"mark":{"type":"text","font":"Liberation Sans","fontSize":14.5,"color":"#000000","align":"center","baseline":"middle"},"encoding":{"text":{"field":"label"}}},
{"data":{"name":"notes"},"mark":{"type":"text","font":"Liberation Sans","fontSize":45,"fontWeight":"bold","color":"#000000","align":"right","baseline":"middle"},"encoding":{"text":{"field":"label"}}}
]}
